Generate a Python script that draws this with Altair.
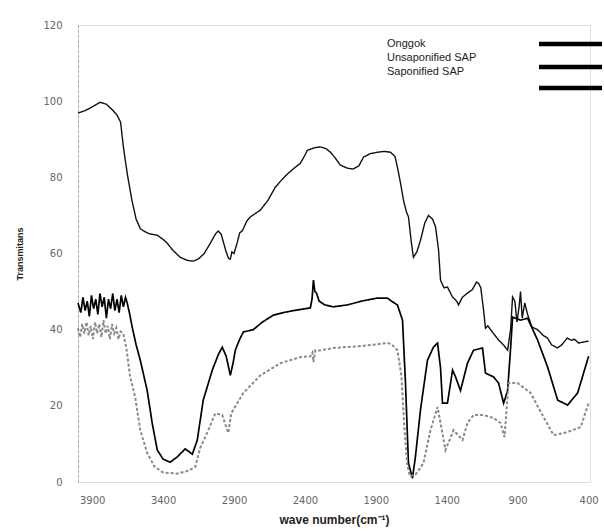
import altair as alt
import pandas as pd

# ---- data (wave number cm-1, transmittance %) ----
onggok_wn = [4000, 3950, 3900, 3844, 3800, 3760, 3724, 3700, 3680, 3653, 3620, 3590, 3560, 3540,
             3500, 3441, 3400, 3371, 3330, 3279, 3230, 3187, 3150, 3110, 3070, 3030, 3011, 2990,
             2960, 2940, 2926, 2915, 2900, 2880, 2860, 2841, 2810, 2785, 2714, 2660, 2609, 2560,
             2517, 2470, 2432, 2400, 2383, 2330, 2291, 2250, 2220, 2185, 2150, 2100, 2058, 2020,
             1987, 1940, 1889, 1840, 1797, 1765, 1748, 1726, 1705, 1685, 1670, 1650, 1635, 1610,
             1585, 1555, 1529, 1500, 1479, 1458, 1444, 1420, 1395, 1360, 1330, 1317, 1290, 1254,
             1220, 1190, 1176, 1160, 1140, 1127, 1110, 1091, 1060, 1035, 1000, 971, 950, 936,
             920, 905, 890, 880, 868, 850, 830, 800, 760, 720, 690, 660, 620, 590, 550, 520,
             500, 470, 400]
onggok_t = [96.9, 97.5, 98.5, 99.7, 99.2, 97.8, 96.3, 94.5, 88, 81, 74, 69, 66.5, 66,
            65.2, 64.8, 63.7, 62.7, 60.8, 59, 58.2, 58, 58.6, 60, 62.5, 65.2, 65.9, 65,
            61, 58.8, 58.5, 60.4, 60, 62.5, 65.4, 66, 68.5, 69.6, 71.4, 74, 77.4, 79.5,
            81.1, 82.6, 83.7, 85.8, 87.1, 87.8, 88, 87.5, 86.6, 85, 83.2, 82.4, 82.2, 83,
            85.3, 86.2, 86.6, 86.8, 86.6, 85.5, 82.7, 78.5, 74, 71, 69.6, 63, 59, 60.5,
            63.5, 68, 70, 69, 67, 61, 53, 51, 51.2, 48.6, 47.5, 46.5, 48.5, 49.6,
            50.5, 52.5, 52.2, 51, 45, 40.4, 41, 40, 38.5, 37.3, 36, 34.6, 40, 48.6,
            47.5, 42, 46, 50, 43, 47, 44, 40.7, 40, 38.5, 37.8, 36, 35.2, 36, 37.8, 37.2,
            37.5, 36.5, 37]

unsap_wn = [4000, 3980, 3965, 3950, 3935, 3920, 3905, 3890, 3875, 3860, 3845, 3830, 3815, 3800,
            3785, 3770, 3755, 3740, 3725, 3710, 3695, 3680, 3665, 3653, 3635, 3618, 3590, 3561,
            3512, 3477, 3441, 3400, 3350, 3300, 3244, 3194, 3159, 3117, 3053, 3010, 2983, 2955,
            2926, 2905, 2891, 2860, 2834, 2764, 2700, 2623, 2550, 2481, 2400, 2362, 2350, 2340,
            2330, 2318, 2300, 2260, 2200, 2100, 2000, 1890, 1818, 1790, 1748, 1712, 1691, 1677,
            1670, 1642, 1621, 1585, 1536, 1494, 1465, 1444, 1430, 1395, 1359, 1338, 1303, 1254,
            1211, 1148, 1127, 1070, 1035, 999, 971, 950, 936, 880, 830, 760, 689, 618, 548, 477,
            400]
unsap_t = [47, 44.5, 48.5, 45, 47.5, 43.5, 49, 45.5, 48, 44, 49.5, 46, 48.5, 43,
           48, 45.5, 49.5, 45, 48, 44.5, 49, 46, 48.5, 47, 44, 40.7, 36, 32,
           24, 15.5, 8.4, 6, 5.2, 6.6, 8.7, 7.3, 11, 21.5, 29.4, 33.5, 35.4, 33,
           28, 31.5, 34.6, 37.5, 39.4, 40, 42, 43.8, 44.5, 45, 45.5, 45.7, 48, 53,
           50, 49.6, 47.5, 46.5, 46, 46.5, 47.5, 48.3, 48.3, 47.5, 46.5, 42.5, 26, 11.8,
           5, 1, 6.6, 19, 32, 35.4, 36.5, 30, 20.7, 20.7, 29.4, 27.6, 24, 31.2,
           34.6, 35.2, 28.6, 27.6, 26, 20.7, 24, 35, 43.3, 42.5, 43, 37.3, 30.2, 21.5, 20.2, 23.4,
           33]

sap_wn = [4000, 3985, 3970, 3955, 3940, 3925, 3910, 3895, 3880, 3865, 3850, 3835, 3820, 3805,
          3790, 3775, 3760, 3745, 3730, 3715, 3700, 3681, 3660, 3632, 3597, 3561, 3512, 3460,
          3400, 3300, 3220, 3173, 3138, 3088, 3032, 2983, 2960, 2940, 2920, 2834, 2714, 2573,
          2432, 2362, 2347, 2340, 2326, 2300, 2200, 2000, 1818, 1790, 1748, 1720, 1700, 1680,
          1660, 1620, 1590, 1564, 1515, 1465, 1444, 1409, 1352, 1289, 1254, 1211, 1141, 1070,
          1021, 993, 964, 901, 809, 717, 647, 560, 456, 400]
sap_t = [40.4, 38, 41.5, 39, 42, 38.5, 41, 37.5, 42, 39, 41.5, 38, 42.5, 39,
         41, 37.5, 41.5, 39, 40.5, 37.5, 39.5, 39, 35.4, 27.6, 22.3, 13.6, 7.6, 4,
         2.5, 2.2, 3, 4, 9, 13, 18, 17.6, 15, 12.9, 18, 23.4, 28, 31.2,
         32.8, 33, 34, 31.5, 34.6, 34.5, 35.2, 35.7, 36.5, 36.2, 34.6, 28, 15, 5,
         1.5, 2, 3.5, 5, 13.6, 19.7, 15.5, 8.4, 13.6, 11, 15.5, 17.6, 17.6, 16.8,
         15.5, 11.8, 26, 26, 23.4, 17, 12.3, 13, 14.4, 20.7]

series_names = ["Onggok", "Unsaponified SAP", "Saponified SAP"]
x_ticks = [3900, 3400, 2900, 2400, 1900, 1400, 900, 400]
y_ticks = [0, 20, 40, 60, 80, 100, 120]

rows = []
for name, wns, ts in [(series_names[0], onggok_wn, onggok_t),
                      (series_names[1], unsap_wn, unsap_t),
                      (series_names[2], sap_wn, sap_t)]:
    for i, (w, t) in enumerate(zip(wns, ts)):
        rows.append({"series": name, "wn": w, "T": t, "idx": i})
df = pd.DataFrame(rows)

W, H = 512, 457

lines = alt.Chart(df).mark_line(clip=False).encode(
    x=alt.X("wn:Q",
            scale=alt.Scale(domain=[4000, 390], nice=False, zero=False),
            axis=alt.Axis(values=x_ticks, format="d", title="wave number(cm\u207b\u00b9)", grid=False,
                          domain=False, ticks=False, labelPadding=13,
                          labelFont="DejaVu Sans", labelFontSize=10, labelColor="#666",
                          titleFont="Liberation Sans", titleFontSize=12, titleFontWeight="bold",
                          titleColor="#222", titlePadding=9)),
    y=alt.Y("T:Q",
            scale=alt.Scale(domain=[0, 120], nice=False),
            axis=alt.Axis(values=y_ticks, format="d", title="Transmitans", grid=False,
                          domain=True, domainColor="#999", domainDash=[2, 3], domainWidth=1,
                          ticks=False, labelPadding=16,
                          labelFont="DejaVu Sans", labelFontSize=10, labelColor="#666",
                          titleFont="Liberation Sans", titleFontSize=9, titleFontWeight="bold",
                          titleColor="#222", titlePadding=18)),
    color=alt.Color("series:N", scale=alt.Scale(domain=series_names,
                                                range=["#111111", "#000000", "#8a8a8a"]),
                    legend=None),
    strokeWidth=alt.StrokeWidth("series:N", scale=alt.Scale(domain=series_names,
                                                            range=[1.4, 2.0, 1.0]),
                                legend=None),
    strokeDash=alt.StrokeDash("series:N", scale=alt.Scale(domain=series_names,
                                                          range=[[1, 0], [1, 0], [3, 2]]),
                              legend=None),
    order="idx:Q",
)

# legend drawn as text + thick bars (labels left of symbols as in the reference)
leg_text_y = [19, 33, 47]
leg_bar_y = [19, 42, 63]
legend_layers = []
for name, ty, by in zip(series_names, leg_text_y, leg_bar_y):
    ldf = pd.DataFrame({"series": [name]})
    legend_layers.append(
        alt.Chart(ldf).mark_text(align="left", baseline="middle", font="Liberation Sans",
                                 fontSize=11, color="#222").encode(
            text="series:N", x=alt.value(309), y=alt.value(ty)))
    legend_layers.append(
        alt.Chart(ldf).mark_rule(strokeWidth=4.5, color="#000").encode(
            x=alt.value(461), x2=alt.value(524), y=alt.value(by)))

chart = alt.layer(lines, *legend_layers).properties(
    width=W, height=H,
    autosize=alt.AutoSizeParams(type="none"),
    padding={"left": 78, "top": 25, "right": 14, "bottom": 49},
).configure_view(stroke=None).configure(background="white")

chart.save("out.html", embed_options={"renderer": "svg", "actions": False})
